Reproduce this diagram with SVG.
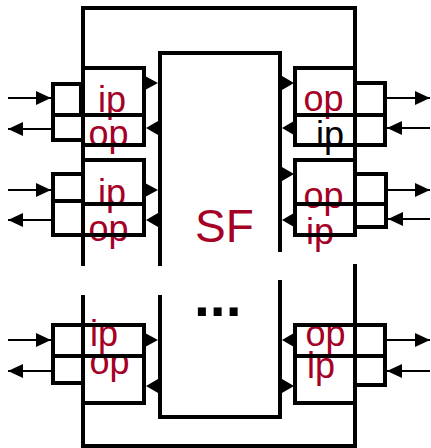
<svg xmlns="http://www.w3.org/2000/svg" width="431" height="448" viewBox="0 0 431 448">
<defs>
<style>
.t{font-family:"Liberation Sans",Arial,sans-serif;font-size:36px;fill:#A50026}
.k{fill:#000}
.b{fill:none;stroke:#000;stroke-width:4;stroke-linecap:square}
.w{fill:none;stroke:#000;stroke-width:2}
.h{fill:#000}
</style>
<marker id="ah" viewBox="0 0 15 14" refX="15" refY="7" markerWidth="15" markerHeight="14" markerUnits="userSpaceOnUse" orient="auto">
<path d="M0,0L15,7L0,14Z" class="h"/>
</marker>
</defs>
<rect width="431" height="448" fill="#fff"/>

<!-- labels first so box lines overlay them -->
<g id="labels">
<text class="t" x="98" y="112">ip</text>
<text class="t" x="88.5" y="146">op</text>
<text class="t" x="98" y="205">ip</text>
<text class="t" x="88.5" y="241">op</text>
<text class="t" x="90" y="346">ip</text>
<text class="t" x="89.5" y="374">op</text>
<text class="t" x="303.5" y="111">op</text>
<text class="t k" x="316" y="147">ip</text>
<text class="t" x="303.5" y="208">op</text>
<text class="t" x="306" y="244">ip</text>
<text class="t" x="305.5" y="346">op</text>
<text class="t" x="307" y="378">ip</text>
</g>

<g id="frame">
<path class="b" d="M83,264V8H355V234"/>
<path class="b" d="M83,297V446H355V266"/>
</g>

<g id="SF">
<path class="b" d="M160,264V53H280V250"/>
<path class="b" d="M160,297V417H280V282"/>
<text x="195" y="242" style="font-family:'Liberation Sans',Arial,sans-serif;font-size:46px;fill:#A50026">SF</text>
<text x="194" y="316" style="font-family:'Liberation Sans',Arial,sans-serif;font-size:57px;font-weight:bold;fill:#000">...</text>
</g>

<g id="L1">
<rect class="b" x="83" y="68" width="61" height="77"/>
<path class="b" d="M53,115H144"/>
<path class="b" d="M81,115V84H53V140H83"/>
</g>
<g id="L2">
<rect class="b" x="83" y="160" width="61" height="75"/>
<path class="b" d="M83,204H144"/>
<path class="b" d="M83,174H53V235H83M53,201H83"/>
</g>
<g id="L3">
<rect class="b" x="83" y="325" width="61" height="78"/>
<path class="b" d="M53,356H144"/>
<path class="b" d="M83,325H53V383H83"/>
</g>
<g id="R1">
<rect class="b" x="295" y="68" width="60" height="77"/>
<path class="b" d="M295,115H385"/>
<path class="b" d="M355,83H385V145H355"/>
</g>
<g id="R2">
<rect class="b" x="295" y="160" width="60" height="75"/>
<path class="b" d="M295,204H386"/>
<path class="b" d="M355,174H386V227H355"/>
</g>
<g id="R3">
<rect class="b" x="295" y="325" width="60" height="78"/>
<path class="b" d="M295,356H385"/>
<path class="b" d="M355,325H385V385H355"/>
</g>

<g id="connectors">
<!-- external arrows -->
<path class="w" d="M8,98H51" marker-end="url(#ah)"/>
<path class="w" d="M51,129H8" marker-end="url(#ah)"/>
<path class="w" d="M8,190H51" marker-end="url(#ah)"/>
<path class="w" d="M51,220H8" marker-end="url(#ah)"/>
<path class="w" d="M8,340H51" marker-end="url(#ah)"/>
<path class="w" d="M51,371H8" marker-end="url(#ah)"/>
<path class="w" d="M387,98H430" marker-end="url(#ah)"/>
<path class="w" d="M430,128H387" marker-end="url(#ah)"/>
<path class="w" d="M388,190H430" marker-end="url(#ah)"/>
<path class="w" d="M430,219H388" marker-end="url(#ah)"/>
<path class="w" d="M387,340H430" marker-end="url(#ah)"/>
<path class="w" d="M430,371H387" marker-end="url(#ah)"/>
<!-- SF port triangles -->
<path class="h" d="M145,76L158,83L145,90Z"/>
<path class="h" d="M158,121L146,128L158,135Z"/>
<path class="h" d="M145,183L158,190L145,197Z"/>
<path class="h" d="M158,213L146,220L158,227Z"/>
<path class="h" d="M145,333L158,340L145,347Z"/>
<path class="h" d="M158,379L146,386L158,393Z"/>
<path class="h" d="M282,76L294,83L282,90Z"/>
<path class="h" d="M294,121L282,128L294,135Z"/>
<path class="h" d="M282,167L294,174L282,181Z"/>
<path class="h" d="M294,213L282,220L294,227Z"/>
<path class="h" d="M294,333L282,340L294,347Z"/>
<path class="h" d="M282,379L294,386L282,393Z"/>
</g>
</svg>
